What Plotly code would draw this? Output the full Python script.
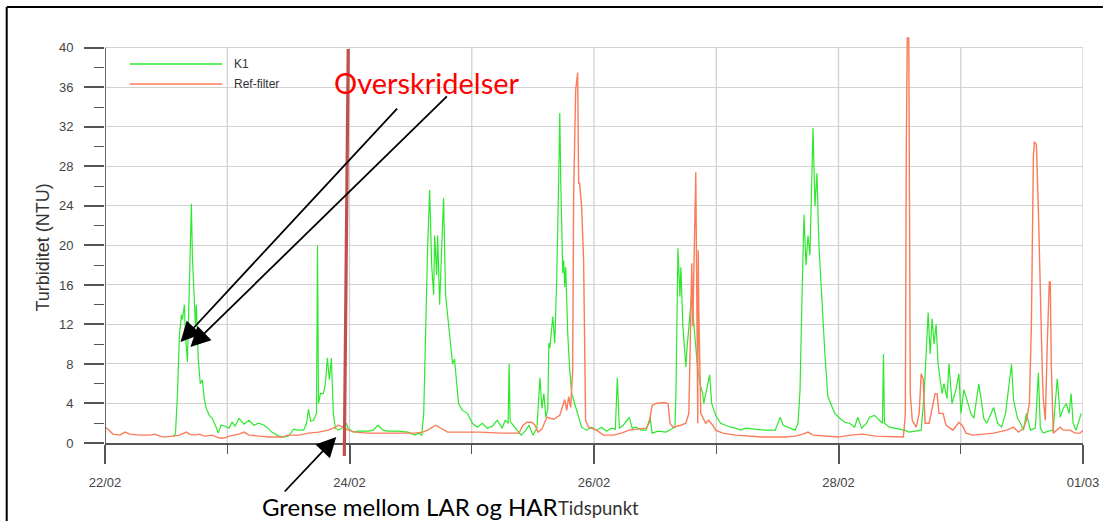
import pandas as pd
import plotly.graph_objects as go

# Turbidity measurements, hours after 22/02/2012 00:00 and NTU
k1_hours = [13.45, 13.84, 14.23, 14.62, 15.01, 15.2, 15.59, 15.79, 16.18, 16.37, 16.57, 16.76, 16.96,
            17.15, 17.35, 17.54, 17.74, 17.93, 18.13, 18.32, 18.71, 19.1, 19.49, 19.88, 20.47, 21.05,
            21.83, 22.22, 22.81, 23.59, 24.37, 24.95, 25.54, 26.32, 27.29, 28.27, 29.24, 30.21, 31.19,
            31.77, 32.75, 34.11, 35.09, 36.06, 37.04, 38.01, 38.99, 39.57, 39.96, 40.35, 40.94, 41.52,
            41.72, 41.91, 42.3, 42.88, 43.27, 43.66, 44.05, 44.44, 44.83, 45.22, 45.81, 46.78, 47.37,
            47.76, 48.73, 49.71, 51.66, 52.63, 53.61, 54.58, 55.56, 57.5, 59.45, 60.82, 61.6, 62.18,
            62.57, 62.96, 63.35, 63.74, 64.13, 64.52, 64.72, 65.11, 65.3, 65.69, 66.08, 66.47, 66.86,
            67.25, 67.64, 68.23, 68.62, 69.01, 69.4, 70.18, 71.15, 72.12, 73.1, 74.07, 75.05, 76.02,
            77.0, 77.97, 78.56, 79.14, 79.34, 79.53, 80.12, 80.9, 81.68, 82.46, 83.24, 84.02, 84.8,
            85.38, 85.77, 86.16, 86.55, 86.94, 87.13, 87.33, 87.91, 88.3, 88.69, 89.08, 89.28, 89.47,
            89.86, 90.06, 90.25, 90.45, 90.84, 91.23, 91.62, 92.2, 92.59, 93.18, 93.57, 94.54, 95.52,
            96.49, 97.47, 98.44, 99.42, 100.19, 100.58, 100.97, 101.75, 102.92, 103.51, 104.29, 105.26,
            106.24, 107.02, 107.41, 108.58, 110.14, 111.31, 111.89, 112.09, 112.48, 112.87, 113.06,
            113.45, 113.84, 114.04, 114.23, 114.42, 114.81, 115.2, 115.59, 115.98, 116.37, 116.96,
            117.35, 117.54, 117.93, 118.71, 119.1, 119.49, 119.88, 120.86, 121.83, 122.81, 123.78,
            124.76, 125.73, 127.68, 129.63, 131.58, 132.55, 133.14, 134.5, 135.48, 136.06, 136.45,
            136.84, 137.23, 137.62, 138.01, 138.4, 138.79, 138.99, 139.38, 139.77, 140.16, 140.55,
            140.94, 141.33, 141.91, 142.69, 143.27, 144.25, 145.22, 146.2, 147.17, 147.76, 148.54,
            149.51, 150.1, 151.07, 152.05, 152.63, 152.83, 153.02, 154.0, 154.97, 155.95, 156.92,
            157.89, 158.87, 160.23, 160.82, 161.21, 161.6, 161.99, 162.38, 162.77, 163.16, 163.55,
            163.94, 164.33, 164.72, 165.3, 165.69, 166.28, 167.06, 167.64, 168.03, 168.62, 169.2,
            169.98, 170.57, 171.54, 171.93, 172.51, 173.1, 173.88, 174.46, 175.24, 176.02, 176.8,
            177.58, 177.97, 178.36, 179.14, 179.73, 180.31, 180.9, 181.68, 182.65, 183.24, 183.63,
            184.21, 185.19, 186.16, 186.55, 186.94, 187.33, 187.52, 188.11, 188.7, 189.28, 189.67,
            190.06, 190.64, 191.42, 191.62]
k1_ntu = [0.6, 1.0, 5.0, 11.0, 13.0, 12.5, 14.0, 11.0, 8.2, 12.0, 16.0, 20.0, 24.2,
          19.0, 16.0, 15.0, 12.0, 14.0, 10.0, 8.4, 6.0, 6.4, 4.5, 3.5, 2.8, 2.5,
          1.6, 1.0, 1.8, 1.7, 1.5, 2.1, 1.7, 2.5, 1.9, 2.3, 1.8, 2.0, 1.8,
          1.6, 1.1, 0.7, 0.6, 0.7, 1.4, 1.3, 1.3, 2.0, 3.4, 2.2, 2.3, 3.0,
          20.0, 4.0, 5.0, 5.0, 6.0, 8.6, 6.4, 8.6, 3.0, 1.5, 1.3, 1.6, 2.0,
          1.5, 1.1, 1.2, 1.2, 1.3, 1.8, 1.3, 1.2, 1.2, 1.1, 0.8, 1.0, 0.8,
          3.0, 12.0, 20.0, 25.6, 18.0, 15.0, 21.0, 17.0, 21.0, 14.0, 20.0, 24.8, 15.0,
          13.0, 11.0, 8.0, 8.5, 6.0, 4.0, 3.3, 3.0, 2.0, 1.6, 2.0, 1.5, 1.7,
          2.3, 1.5, 2.3, 2.0, 8.0, 2.2, 1.8, 1.3, 0.8, 1.2, 1.8, 0.8, 1.5,
          6.6, 3.5, 5.0, 2.6, 3.5, 10.1, 9.6, 12.8, 10.1, 16.8, 26.9, 33.4, 26.6,
          17.2, 18.5, 15.8, 17.8, 11.1, 7.4, 5.0, 4.0, 3.3, 2.3, 1.6, 1.3, 1.6,
          1.3, 1.6, 1.2, 1.5, 1.4, 6.6, 1.5, 1.8, 2.6, 1.5, 1.6, 1.3,
          1.3, 2.6, 1.0, 1.2, 1.1, 1.4, 1.6, 5.0, 19.7, 14.8, 17.8,
          11.8, 9.1, 7.7, 9.4, 10.7, 13.1, 15.2, 12.1, 10.1, 7.4, 5.7,
          5.0, 4.0, 5.0, 6.9, 4.0, 3.3, 2.8, 2.0, 1.8, 1.6, 1.5,
          1.3, 1.5, 1.4, 1.3, 1.3, 2.6, 1.8, 1.5, 1.3, 2.0, 5.4,
          15.0, 23.1, 18.0, 21.0, 19.0, 26.0, 31.9, 24.0, 27.3, 20.0, 16.0,
          13.0, 9.0, 4.7, 3.8, 3.0, 2.5, 2.1, 2.0, 1.6, 2.6, 1.5,
          2.0, 2.6, 2.8, 2.3, 2.0, 9.0, 2.0, 1.6, 1.5, 1.4, 1.3,
          1.1, 1.2, 1.3, 5.0, 10.0, 13.2, 9.0, 12.6, 10.0, 12.0, 8.0,
          6.5, 5.0, 6.0, 4.5, 8.0, 4.0, 5.4, 7.0, 3.0, 5.4, 4.4,
          3.0, 2.5, 6.0, 4.7, 2.5, 2.0, 3.0, 3.6, 2.0, 1.6, 3.0,
          6.4, 8.0, 4.4, 2.5, 2.0, 1.3, 3.0, 1.3, 1.5, 7.1, 1.5,
          1.0, 1.2, 1.3, 4.0, 6.5, 4.0, 2.6, 3.5, 4.0, 3.0, 5.0,
          2.0, 1.3, 2.6, 3.0]

ref_hours = [0.0, 0.58, 1.56, 2.92, 3.9, 4.87, 6.82, 8.77, 9.75, 10.72, 11.7, 13.65, 14.62, 15.98,
             16.57, 17.54, 18.52, 19.49, 21.05, 22.42, 23.39, 24.37, 26.32, 27.29, 28.27, 30.21, 32.16,
             34.7, 36.06, 38.01, 39.96, 41.91, 43.86, 45.22, 45.81, 46.78, 47.76, 49.12, 51.66, 54.19,
             57.5, 60.82, 62.38, 63.35, 64.91, 65.89, 67.25, 70.57, 73.68, 77.58, 80.31, 81.29, 82.07,
             82.85, 83.82, 84.41, 84.99, 85.77, 86.74, 88.11, 89.28, 90.25, 90.64, 91.03, 91.42, 91.81,
             92.01, 92.4, 92.79, 92.98, 93.18, 93.57, 93.96, 94.15, 94.35, 94.93, 96.49, 97.86, 99.81,
             101.36, 102.92, 106.24, 106.82, 107.41, 108.19, 109.75, 110.53, 110.92, 111.5, 113.06,
             114.04, 114.62, 115.01, 115.2, 115.4, 115.79, 115.98, 116.18, 116.37, 116.47, 116.57,
             116.96, 117.93, 118.52, 119.3, 119.88, 121.25, 123.78, 129.04, 133.53, 135.48, 137.04,
             138.01, 138.99, 141.33, 144.02, 146.39, 148.73, 151.27, 155.36, 156.73, 156.92, 157.12,
             157.31, 157.5, 157.8, 157.89, 158.09, 158.48, 159.26, 159.84, 160.23, 160.62, 161.01,
             161.79, 162.57, 162.96, 163.35, 163.74, 164.52, 165.11, 166.47, 167.64, 168.42, 169.01,
             170.37, 174.46, 176.99, 178.36, 179.34, 180.31, 180.9, 181.48, 181.87, 182.26, 182.46,
             182.85, 183.24, 183.63, 184.02, 184.21, 184.6, 184.99, 185.38, 185.58, 185.77, 186.16,
             187.52, 188.11, 189.47, 190.45, 191.42, 192.0]
ref_ntu = [1.6, 1.4, 0.9, 0.8, 1.1, 0.9, 0.8, 0.8, 0.9, 0.7, 0.6, 0.7, 0.8, 1.1,
           0.9, 0.8, 0.9, 0.7, 0.8, 0.5, 0.5, 0.7, 0.9, 1.1, 0.8, 0.7, 0.6,
           0.6, 0.8, 0.8, 1.0, 1.1, 1.3, 1.6, 1.8, 1.6, 1.3, 1.1, 1.0, 1.0,
           1.0, 1.0, 1.1, 1.3, 1.8, 1.5, 1.1, 1.1, 1.1, 1.0, 1.0, 1.0, 1.8,
           2.1, 2.1, 1.8, 1.1, 1.4, 2.6, 2.4, 2.8, 4.4, 3.3, 4.7, 3.6, 7.4,
           25.3, 35.7, 37.5, 26.3, 26.3, 23.9, 18.5, 8.4, 2.3, 1.6, 1.3, 0.8, 0.8,
           1.0, 1.3, 1.5, 2.0, 3.8, 4.0, 4.1, 4.0, 2.0, 1.6, 1.8,
           2.0, 3.0, 11.8, 18.2, 11.8, 21.9, 27.4, 15.2, 2.0, 19.5, 13.5,
           3.0, 2.0, 2.3, 1.8, 1.3, 1.0, 0.8, 0.6, 0.6, 0.7, 0.9,
           1.1, 0.8, 0.7, 0.6, 0.8, 0.9, 0.7, 0.6, 0.6, 1.6, 3.0,
           30.0, 41.0, 41.0, 30.0, 5.0, 2.3, 1.6, 3.0, 7.0, 6.5, 2.0,
           2.0, 4.0, 5.0, 5.0, 3.0, 3.0, 1.8, 1.3, 2.1, 1.7, 1.0,
           0.8, 1.0, 1.3, 1.6, 1.1, 1.5, 2.3, 4.0, 12.0, 29.0, 30.5,
           30.2, 23.6, 14.0, 7.0, 4.4, 2.3, 10.0, 16.3, 16.3, 8.0, 1.0,
           1.6, 1.3, 1.3, 1.0, 1.0, 1.3]

date_ticks = ["2012-02-22", "2012-02-24", "2012-02-26", "2012-02-28", "2012-03-01"]
date_labels = ["22/02", "24/02", "26/02", "28/02", "01/03"]
ntu_ticks = list(range(0, 41, 4))
ntu_minor = list(range(2, 40, 4))

start = pd.Timestamp("2012-02-22")
end = pd.Timestamp("2012-03-01")
k1_time = start + pd.to_timedelta(k1_hours, unit="h")
ref_time = start + pd.to_timedelta(ref_hours, unit="h")

K1_COLOR = "#2ee82e"
REF_COLOR = "#fa7c5a"
AXIS_COLOR = "#555555"
GRID_COLOR = "#d2d2d2"
TICK_FONT = dict(family="Liberation Sans, Arial, sans-serif", size=13, color="#444444")

fig = go.Figure()
fig.add_trace(go.Scatter(x=k1_time, y=k1_ntu, mode="lines", name="K1",
                         line=dict(color=K1_COLOR, width=1.2), showlegend=False))
fig.add_trace(go.Scatter(x=ref_time, y=ref_ntu, mode="lines", name="Ref-filter",
                         line=dict(color=REF_COLOR, width=1.4), showlegend=False))

shapes = []
# daily vertical grid, stopping at the 40 NTU line
for day in pd.date_range(start + pd.Timedelta(days=1), end, freq="D"):
    shapes.append(dict(type="line", xref="x", yref="y", x0=day, x1=day, y0=0, y1=40,
                       line=dict(color=GRID_COLOR, width=1.3), layer="below"))
# vertical axis line
shapes.append(dict(type="line", xref="x", yref="y", x0=start, x1=start, y0=0, y1=40,
                   line=dict(color=AXIS_COLOR, width=1.8)))

# boundary between LAR and HAR
shapes.append(dict(type="line", xref="paper", yref="paper", x0=0.2487, y0=0.9657, x1=0.2447, y1=-0.032,
                   line=dict(color="#c0504d", width=3.2)))

# outer frame (top and left edges)
shapes.append(dict(type="line", xref="paper", yref="paper", x0=-0.1005, y0=1.0686, x1=1.0203, y1=1.0686,
                   line=dict(color="black", width=2)))
shapes.append(dict(type="line", xref="paper", yref="paper", x0=-0.1005, y0=1.0686, x1=-0.1005, y1=-0.2,
                   line=dict(color="black", width=2)))

# legend samples
legend_items = [("K1", K1_COLOR, 0.9289), ("Ref-filter", REF_COLOR, 0.8799)]
annotations = []
for label, color, ly in legend_items:
    shapes.append(dict(type="line", xref="paper", yref="paper", x0=0.0254, x1=0.1198, y0=ly, y1=ly,
                       line=dict(color=color, width=2), opacity=0.75))
    annotations.append(dict(xref="paper", yref="paper", x=0.1299, y=ly, text=label, showarrow=False,
                            xanchor="left", yanchor="middle",
                            font=dict(family="Liberation Sans, Arial, sans-serif", size=12, color="#333333")))

annotations += [
    dict(xref="paper", yref="paper", x=-0.063, y=0.48, text="Turbiditet (NTU)", textangle=-90,
         showarrow=False, xanchor="center", yanchor="middle",
         font=dict(family="Liberation Sans, Arial, sans-serif", size=18, color="#333333")),
    dict(xref="paper", yref="paper", x=0.5045, y=-0.159, text="Tidspunkt", showarrow=False,
         xanchor="center", yanchor="middle", font=dict(family="Lato, sans-serif", size=18.5, color="#333333")),
    dict(xref="paper", yref="paper", x=0.1584, y=-0.155, text="Grense mellom LAR og HAR", showarrow=False,
         xanchor="left", yanchor="middle", font=dict(family="Lato, sans-serif", size=24, color="black")),
    dict(xref="paper", yref="paper", x=0.2325, y=0.883, text="Overskridelser", showarrow=False,
         xanchor="left", yanchor="middle", font=dict(family="Lato, sans-serif", size=29, color="#ff0000")),
]

# arrows: head position in paper units, tail offset in pixels
arrows = [((0.0772, 0.2475), 218, -235), ((0.0873, 0.2353), 258, -252), ((0.2365, 0.0147), -53, 56)]
for (hx, hy), ax, ay in arrows:
    annotations.append(dict(xref="paper", yref="paper", x=hx, y=hy, ax=ax, ay=ay, text="",
                            showarrow=True, arrowhead=2, arrowsize=2.2, arrowwidth=1.8,
                            arrowcolor="black", standoff=0))

fig.update_layout(
    width=1111, height=521,
    margin=dict(l=105, r=21, t=35, b=78),
    paper_bgcolor="white", plot_bgcolor="white",
    shapes=shapes, annotations=annotations,
    xaxis=dict(range=[start, end], tickmode="array", tickvals=pd.to_datetime(date_ticks),
               ticktext=date_labels, ticks="outside", ticklen=19, tickwidth=1.5, tickcolor=AXIS_COLOR,
               showgrid=False, zeroline=False, showline=True, linecolor=AXIS_COLOR, linewidth=1.6,
               tickfont=TICK_FONT, ticklabelstandoff=8,
               minor=dict(dtick=86400000, tick0=start, ticks="outside", ticklen=9, tickwidth=1.3,
                          tickcolor=AXIS_COLOR, showgrid=False)),
    yaxis=dict(range=[0, 41.3], tickmode="array", tickvals=ntu_ticks, ticks="outside", ticklen=20,
               tickwidth=1.5, tickcolor=AXIS_COLOR, showgrid=True, gridcolor=GRID_COLOR, gridwidth=1.3,
               zeroline=False, showline=False, tickfont=TICK_FONT, ticklabelstandoff=8,
               minor=dict(tickmode="array", tickvals=ntu_minor, ticks="outside", ticklen=10, tickwidth=1.3,
                          tickcolor=AXIS_COLOR, showgrid=False)),
)

fig.write_html("out.html")
